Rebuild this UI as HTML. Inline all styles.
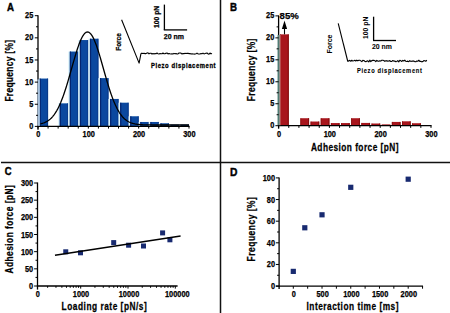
<!DOCTYPE html>
<html><head><meta charset="utf-8"><style>
html,body{margin:0;padding:0;background:#fff;width:450px;height:313px;overflow:hidden}
svg{display:block;font-family:"Liberation Sans", sans-serif}
</style></head><body>
<svg width="450" height="313" viewBox="0 0 450 313">
<line x1="220.50" y1="0.00" x2="220.50" y2="313.00" stroke="#111" stroke-width="1.5"/>
<line x1="1.00" y1="162.40" x2="450.00" y2="162.40" stroke="#111" stroke-width="1.5"/>
<text transform="translate(7.1,10.9)" x="0" y="0" font-size="11.5" font-weight="bold" text-anchor="start" fill="#000" textLength="7.0" lengthAdjust="spacingAndGlyphs" stroke="#000" stroke-width="0.45">A</text>
<rect x="38.00" y="78.58" width="10.07" height="47.82" fill="#dcf4fb"/>
<rect x="39.60" y="78.58" width="8.47" height="47.82" fill="#0b489f"/>
<rect x="39.60" y="78.58" width="1.20" height="47.82" fill="#042470"/>
<rect x="47.07" y="78.58" width="1.00" height="47.82" fill="#0a3888"/>
<rect x="58.13" y="103.37" width="10.07" height="23.03" fill="#dcf4fb"/>
<rect x="59.73" y="103.37" width="8.47" height="23.03" fill="#0b489f"/>
<rect x="59.73" y="103.37" width="1.20" height="23.03" fill="#042470"/>
<rect x="67.20" y="103.37" width="1.00" height="23.03" fill="#0a3888"/>
<rect x="68.20" y="51.57" width="10.07" height="74.83" fill="#dcf4fb"/>
<rect x="69.80" y="51.57" width="8.47" height="74.83" fill="#0b489f"/>
<rect x="69.80" y="51.57" width="1.20" height="74.83" fill="#042470"/>
<rect x="77.27" y="51.57" width="1.00" height="74.83" fill="#0a3888"/>
<rect x="78.27" y="40.05" width="10.07" height="86.35" fill="#dcf4fb"/>
<rect x="79.87" y="40.05" width="8.47" height="86.35" fill="#0b489f"/>
<rect x="79.87" y="40.05" width="1.20" height="86.35" fill="#042470"/>
<rect x="87.33" y="40.05" width="1.00" height="86.35" fill="#0a3888"/>
<rect x="88.33" y="38.73" width="10.07" height="87.67" fill="#dcf4fb"/>
<rect x="89.93" y="38.73" width="8.47" height="87.67" fill="#0b489f"/>
<rect x="89.93" y="38.73" width="1.20" height="87.67" fill="#042470"/>
<rect x="97.40" y="38.73" width="1.00" height="87.67" fill="#0a3888"/>
<rect x="98.40" y="78.13" width="10.07" height="48.27" fill="#dcf4fb"/>
<rect x="100.00" y="78.13" width="8.47" height="48.27" fill="#0b489f"/>
<rect x="100.00" y="78.13" width="1.20" height="48.27" fill="#042470"/>
<rect x="107.47" y="78.13" width="1.00" height="48.27" fill="#0a3888"/>
<rect x="108.47" y="98.95" width="10.07" height="27.45" fill="#dcf4fb"/>
<rect x="110.07" y="98.95" width="8.47" height="27.45" fill="#0b489f"/>
<rect x="110.07" y="98.95" width="1.20" height="27.45" fill="#042470"/>
<rect x="117.53" y="98.95" width="1.00" height="27.45" fill="#0a3888"/>
<rect x="118.53" y="102.71" width="10.07" height="23.69" fill="#dcf4fb"/>
<rect x="120.13" y="102.71" width="8.47" height="23.69" fill="#0b489f"/>
<rect x="120.13" y="102.71" width="1.20" height="23.69" fill="#042470"/>
<rect x="127.60" y="102.71" width="1.00" height="23.69" fill="#0a3888"/>
<rect x="128.60" y="116.30" width="10.07" height="10.10" fill="#dcf4fb"/>
<rect x="130.20" y="116.30" width="8.47" height="10.10" fill="#0b489f"/>
<rect x="130.20" y="116.30" width="1.20" height="10.10" fill="#042470"/>
<rect x="137.67" y="116.30" width="1.00" height="10.10" fill="#0a3888"/>
<rect x="138.67" y="121.97" width="10.07" height="4.43" fill="#dcf4fb"/>
<rect x="140.27" y="121.97" width="8.47" height="4.43" fill="#0b489f"/>
<rect x="140.27" y="121.97" width="1.20" height="4.43" fill="#042470"/>
<rect x="147.73" y="121.97" width="1.00" height="4.43" fill="#0a3888"/>
<rect x="148.73" y="121.97" width="10.07" height="4.43" fill="#dcf4fb"/>
<rect x="150.33" y="121.97" width="8.47" height="4.43" fill="#0b489f"/>
<rect x="150.33" y="121.97" width="1.20" height="4.43" fill="#042470"/>
<rect x="157.80" y="121.97" width="1.00" height="4.43" fill="#0a3888"/>
<rect x="158.80" y="123.30" width="10.07" height="3.10" fill="#dcf4fb"/>
<rect x="160.40" y="123.30" width="8.47" height="3.10" fill="#0b489f"/>
<rect x="160.40" y="123.30" width="1.20" height="3.10" fill="#042470"/>
<rect x="167.87" y="123.30" width="1.00" height="3.10" fill="#0a3888"/>
<rect x="168.87" y="124.63" width="10.07" height="1.77" fill="#dcf4fb"/>
<rect x="170.47" y="124.63" width="8.47" height="1.77" fill="#0b489f"/>
<rect x="178.93" y="124.63" width="10.07" height="1.77" fill="#dcf4fb"/>
<rect x="180.53" y="124.63" width="8.47" height="1.77" fill="#0b489f"/>
<path d="M40.50,123.82 L40.99,123.71 L41.49,123.59 L41.98,123.45 L42.48,123.31 L42.98,123.16 L43.47,122.99 L43.97,122.81 L44.46,122.62 L44.95,122.41 L45.45,122.18 L45.95,121.94 L46.44,121.69 L46.94,121.41 L47.43,121.12 L47.92,120.80 L48.42,120.46 L48.91,120.11 L49.41,119.72 L49.91,119.32 L50.40,118.89 L50.89,118.43 L51.39,117.95 L51.88,117.43 L52.38,116.89 L52.88,116.32 L53.37,115.71 L53.87,115.07 L54.36,114.40 L54.86,113.70 L55.35,112.96 L55.84,112.18 L56.34,111.37 L56.84,110.52 L57.33,109.63 L57.83,108.70 L58.32,107.74 L58.81,106.73 L59.31,105.68 L59.80,104.60 L60.30,103.47 L60.80,102.31 L61.29,101.10 L61.78,99.85 L62.28,98.57 L62.77,97.24 L63.27,95.88 L63.77,94.48 L64.26,93.04 L64.75,91.57 L65.25,90.07 L65.75,88.53 L66.24,86.96 L66.73,85.36 L67.23,83.74 L67.72,82.09 L68.22,80.41 L68.72,78.72 L69.21,77.01 L69.70,75.28 L70.20,73.55 L70.69,71.80 L71.19,70.05 L71.69,68.29 L72.18,66.54 L72.67,64.78 L73.17,63.04 L73.66,61.31 L74.16,59.59 L74.66,57.89 L75.15,56.22 L75.65,54.57 L76.14,52.95 L76.63,51.36 L77.13,49.82 L77.62,48.31 L78.12,46.85 L78.62,45.44 L79.11,44.09 L79.60,42.79 L80.10,41.55 L80.59,40.37 L81.09,39.26 L81.59,38.22 L82.08,37.25 L82.58,36.36 L83.07,35.54 L83.56,34.80 L84.06,34.15 L84.56,33.58 L85.05,33.10 L85.55,32.70 L86.04,32.39 L86.53,32.17 L87.03,32.04 L87.53,32.00 L88.02,32.05 L88.52,32.19 L89.01,32.42 L89.50,32.74 L90.00,33.14 L90.50,33.64 L90.99,34.21 L91.48,34.88 L91.98,35.62 L92.47,36.44 L92.97,37.34 L93.47,38.32 L93.96,39.37 L94.45,40.48 L94.95,41.67 L95.44,42.91 L95.94,44.22 L96.44,45.58 L96.93,47.00 L97.42,48.46 L97.92,49.97 L98.41,51.52 L98.91,53.11 L99.41,54.73 L99.90,56.39 L100.40,58.06 L100.89,59.76 L101.38,61.48 L101.88,63.22 L102.38,64.96 L102.87,66.71 L103.37,68.47 L103.86,70.22 L104.35,71.98 L104.85,73.72 L105.34,75.46 L105.84,77.18 L106.33,78.89 L106.83,80.58 L107.33,82.25 L107.82,83.90 L108.31,85.52 L108.81,87.12 L109.31,88.68 L109.80,90.22 L110.30,91.72 L110.79,93.19 L111.28,94.62 L111.78,96.02 L112.28,97.38 L112.77,98.70 L113.27,99.98 L113.76,101.22 L114.25,102.42 L114.75,103.59 L115.25,104.71 L115.74,105.79 L116.23,106.83 L116.73,107.84 L117.22,108.80 L117.72,109.72 L118.22,110.61 L118.71,111.45 L119.20,112.26 L119.70,113.04 L120.19,113.77 L120.69,114.47 L121.19,115.14 L121.68,115.77 L122.17,116.38 L122.67,116.95 L123.17,117.49 L123.66,118.00 L124.16,118.48 L124.65,118.93 L125.14,119.36 L125.64,119.76 L126.14,120.14 L126.63,120.50 L127.12,120.83 L127.62,121.15 L128.12,121.44 L128.61,121.71 L129.11,121.97 L129.60,122.21 L130.09,122.43 L130.59,122.64 L131.08,122.83 L131.58,123.01 L132.07,123.17 L132.57,123.33 L133.06,123.47 L133.56,123.60 L134.06,123.72 L134.55,123.83 L135.05,123.94 L135.54,124.03 L136.03,124.12 L136.53,124.20 L137.03,124.27 L137.52,124.34 L138.01,124.40 L138.51,124.46 L139.00,124.51 L139.50,124.56 L140.00,124.60 L140.49,124.64 L140.99,124.68 L141.48,124.71 L141.97,124.74 L142.47,124.76 L142.97,124.79 L143.46,124.81 L143.95,124.83 L144.45,124.85 L144.94,124.86 L145.44,124.88 L145.94,124.89 L146.43,124.90 L146.93,124.91 L147.42,124.92 L147.92,124.93 L148.41,124.94 L148.91,124.95 L149.40,124.95 L149.89,124.96 L150.39,124.96 L150.88,124.97 L151.38,124.97 L151.88,124.97 L152.37,124.98 L152.87,124.98 L153.36,124.98 L153.86,124.98 L154.35,124.99 L154.84,124.99 L155.34,124.99 L155.83,124.99 L156.33,124.99 L156.82,124.99 L157.32,124.99 L157.81,124.99 L158.31,125.00 L158.81,125.00 L159.30,125.00 L159.80,125.00 L160.29,125.00 L160.78,125.00 L161.28,125.00 L161.78,125.00 L162.27,125.00 L162.76,125.00 L163.26,125.00 L163.75,125.00 L164.25,125.00 L164.75,125.00 L165.24,125.00 L165.74,125.00 L166.23,125.00 L166.72,125.00 L167.22,125.00 L167.72,125.00 L168.21,125.00 L168.71,125.00 L169.20,125.00 L169.69,125.00 L170.19,125.00 L170.69,125.00 L171.18,125.00 L171.68,125.00 L172.17,125.00 L172.66,125.00 L173.16,125.00 L173.66,125.00 L174.15,125.00 L174.65,125.00 L175.14,125.00 L175.63,125.00 L176.13,125.00 L176.62,125.00 L177.12,125.00 L177.62,125.00 L178.11,125.00 L178.60,125.00 L179.10,125.00 L179.59,125.00 L180.09,125.00 L180.59,125.00 L181.08,125.00 L181.57,125.00 L182.07,125.00 L182.56,125.00 L183.06,125.00 L183.56,125.00 L184.05,125.00 L184.54,125.00 L185.04,125.00 L185.53,125.00 L186.03,125.00 L186.53,125.00 L187.02,125.00 L187.51,125.00 L188.01,125.00 L188.50,125.00 L189.00,125.00" fill="none" stroke="#000" stroke-width="1.3" stroke-linejoin="round"/>
<line x1="38.00" y1="15.20" x2="38.00" y2="129.70" stroke="#000" stroke-width="1.3"/>
<line x1="37.40" y1="126.40" x2="189.60" y2="126.40" stroke="#000" stroke-width="1.3"/>
<rect x="37.40" y="79.38" width="2.40" height="46.42" fill="#a9c2dc"/>
<line x1="34.80" y1="126.40" x2="38.00" y2="126.40" stroke="#000" stroke-width="1.0"/>
<text transform="translate(33.3,129.0)" x="0" y="0" font-size="8.4" font-weight="bold" text-anchor="end" fill="#000" textLength="4.1" lengthAdjust="spacingAndGlyphs" stroke="#000" stroke-width="0.25">0</text>
<line x1="36.00" y1="115.33" x2="38.00" y2="115.33" stroke="#000" stroke-width="1.0"/>
<line x1="34.80" y1="104.26" x2="38.00" y2="104.26" stroke="#000" stroke-width="1.0"/>
<text transform="translate(33.3,106.86)" x="0" y="0" font-size="8.4" font-weight="bold" text-anchor="end" fill="#000" textLength="4.1" lengthAdjust="spacingAndGlyphs" stroke="#000" stroke-width="0.25">5</text>
<line x1="36.00" y1="93.19" x2="38.00" y2="93.19" stroke="#000" stroke-width="1.0"/>
<line x1="34.80" y1="82.12" x2="38.00" y2="82.12" stroke="#000" stroke-width="1.0"/>
<text transform="translate(33.3,84.72)" x="0" y="0" font-size="8.4" font-weight="bold" text-anchor="end" fill="#000" textLength="8.2" lengthAdjust="spacingAndGlyphs" stroke="#000" stroke-width="0.25">10</text>
<line x1="36.00" y1="71.05" x2="38.00" y2="71.05" stroke="#000" stroke-width="1.0"/>
<line x1="34.80" y1="59.98" x2="38.00" y2="59.98" stroke="#000" stroke-width="1.0"/>
<text transform="translate(33.3,62.580000000000005)" x="0" y="0" font-size="8.4" font-weight="bold" text-anchor="end" fill="#000" textLength="8.2" lengthAdjust="spacingAndGlyphs" stroke="#000" stroke-width="0.25">15</text>
<line x1="36.00" y1="48.91" x2="38.00" y2="48.91" stroke="#000" stroke-width="1.0"/>
<line x1="34.80" y1="37.84" x2="38.00" y2="37.84" stroke="#000" stroke-width="1.0"/>
<text transform="translate(33.3,40.440000000000005)" x="0" y="0" font-size="8.4" font-weight="bold" text-anchor="end" fill="#000" textLength="8.2" lengthAdjust="spacingAndGlyphs" stroke="#000" stroke-width="0.25">20</text>
<line x1="36.00" y1="26.77" x2="38.00" y2="26.77" stroke="#000" stroke-width="1.0"/>
<line x1="34.80" y1="15.70" x2="38.00" y2="15.70" stroke="#000" stroke-width="1.0"/>
<text transform="translate(33.3,18.300000000000004)" x="0" y="0" font-size="8.4" font-weight="bold" text-anchor="end" fill="#000" textLength="8.2" lengthAdjust="spacingAndGlyphs" stroke="#000" stroke-width="0.25">25</text>
<line x1="38.00" y1="126.40" x2="38.00" y2="128.60" stroke="#000" stroke-width="1.0"/>
<line x1="48.07" y1="126.40" x2="48.07" y2="128.60" stroke="#000" stroke-width="1.0"/>
<line x1="58.13" y1="126.40" x2="58.13" y2="128.60" stroke="#000" stroke-width="1.0"/>
<line x1="68.20" y1="126.40" x2="68.20" y2="128.60" stroke="#000" stroke-width="1.0"/>
<line x1="78.27" y1="126.40" x2="78.27" y2="128.60" stroke="#000" stroke-width="1.0"/>
<line x1="88.33" y1="126.40" x2="88.33" y2="128.60" stroke="#000" stroke-width="1.0"/>
<line x1="98.40" y1="126.40" x2="98.40" y2="128.60" stroke="#000" stroke-width="1.0"/>
<line x1="108.47" y1="126.40" x2="108.47" y2="128.60" stroke="#000" stroke-width="1.0"/>
<line x1="118.53" y1="126.40" x2="118.53" y2="128.60" stroke="#000" stroke-width="1.0"/>
<line x1="128.60" y1="126.40" x2="128.60" y2="128.60" stroke="#000" stroke-width="1.0"/>
<line x1="138.67" y1="126.40" x2="138.67" y2="128.60" stroke="#000" stroke-width="1.0"/>
<line x1="148.73" y1="126.40" x2="148.73" y2="128.60" stroke="#000" stroke-width="1.0"/>
<line x1="158.80" y1="126.40" x2="158.80" y2="128.60" stroke="#000" stroke-width="1.0"/>
<line x1="168.87" y1="126.40" x2="168.87" y2="128.60" stroke="#000" stroke-width="1.0"/>
<line x1="178.93" y1="126.40" x2="178.93" y2="128.60" stroke="#000" stroke-width="1.0"/>
<line x1="189.00" y1="126.40" x2="189.00" y2="128.60" stroke="#000" stroke-width="1.0"/>
<text transform="translate(38.4,136.6)" x="0" y="0" font-size="8.4" font-weight="bold" text-anchor="middle" fill="#000" textLength="4.1" lengthAdjust="spacingAndGlyphs" stroke="#000" stroke-width="0.25">0</text>
<text transform="translate(88.73333333333333,136.6)" x="0" y="0" font-size="8.4" font-weight="bold" text-anchor="middle" fill="#000" textLength="12.3" lengthAdjust="spacingAndGlyphs" stroke="#000" stroke-width="0.25">100</text>
<text transform="translate(139.06666666666666,136.6)" x="0" y="0" font-size="8.4" font-weight="bold" text-anchor="middle" fill="#000" textLength="12.3" lengthAdjust="spacingAndGlyphs" stroke="#000" stroke-width="0.25">200</text>
<text transform="translate(189.4,136.6)" x="0" y="0" font-size="8.4" font-weight="bold" text-anchor="middle" fill="#000" textLength="12.3" lengthAdjust="spacingAndGlyphs" stroke="#000" stroke-width="0.25">300</text>
<text transform="translate(12.9,101.6) rotate(-90) scale(0.8,1)" x="0" y="0" font-size="10.5" font-weight="bold" text-anchor="start" fill="#000" textLength="77.00" lengthAdjust="spacing" stroke="#000" stroke-width="0.25">Frequency [%]</text>
<path d="M121.60,19.70 L139.10,63.10 L141.00,53.40" fill="none" stroke="#000" stroke-width="1.1" stroke-linejoin="round"/>
<path d="M141.00,53.40 L142.00,53.19 L143.00,53.55 L144.00,53.34 L145.00,53.62 L146.00,53.65 L147.00,52.98 L148.00,52.92 L149.00,53.90 L150.00,53.21 L151.00,53.18 L152.00,54.09 L153.00,53.46 L154.00,53.90 L155.00,53.47 L156.00,53.67 L157.00,53.08 L158.00,53.66 L159.00,53.94 L160.00,53.53 L161.00,53.79 L162.00,53.71 L163.00,52.98 L164.00,53.81 L165.00,53.61 L166.00,53.26 L167.00,52.94 L168.00,53.94 L169.00,53.47 L170.00,53.76 L171.00,53.95 L172.00,53.76 L173.00,54.01 L174.00,53.37 L175.00,53.86 L176.00,53.43 L177.00,54.02 L178.00,53.95 L179.00,53.02 L180.00,53.06 L181.00,53.16 L182.00,54.06 L183.00,53.42 L184.00,53.65 L185.00,53.26 L186.00,53.51 L187.00,53.36 L188.00,53.32 L189.00,53.60 L190.00,53.60 L191.00,53.99 L192.00,53.72 L193.00,54.01 L194.00,53.93 L195.00,54.09 L196.00,53.71 L197.00,53.10 L198.00,53.93 L199.00,54.06 L200.00,53.99 L201.00,53.58 L202.00,53.76 L203.00,53.15 L204.00,53.90 L205.00,53.59 L206.00,53.24 L207.00,52.98 L208.00,53.92 L209.00,54.09 L210.00,53.01 L211.00,53.86 L212.00,53.39" fill="none" stroke="#000" stroke-width="1.1" stroke-linejoin="round"/>
<text transform="translate(120.6,50.8) rotate(-90)" x="0" y="0" font-size="7.2" font-weight="bold" text-anchor="start" fill="#000" textLength="17.6" lengthAdjust="spacingAndGlyphs" stroke="#000" stroke-width="0.25">Force</text>
<line x1="164.40" y1="4.60" x2="164.40" y2="29.90" stroke="#000" stroke-width="1.3"/>
<line x1="163.80" y1="29.90" x2="187.10" y2="29.90" stroke="#000" stroke-width="1.3"/>
<text transform="translate(158.9,28.0) rotate(-90)" x="0" y="0" font-size="6.5" font-weight="bold" text-anchor="start" fill="#000" textLength="22.2" lengthAdjust="spacingAndGlyphs" stroke="#000" stroke-width="0.25">100 pN</text>
<text transform="translate(163.8,38.5)" x="0" y="0" font-size="7.2" font-weight="bold" text-anchor="start" fill="#000" textLength="20.2" lengthAdjust="spacingAndGlyphs" stroke="#000" stroke-width="0.25">20 nm</text>
<text transform="translate(151.0,68.2) scale(0.82,1)" x="0" y="0" font-size="7.2" font-weight="bold" text-anchor="start" fill="#000" textLength="78.78" lengthAdjust="spacing" stroke="#000" stroke-width="0.3">Piezo displacement</text>
<text transform="translate(229.9,10.9)" x="0" y="0" font-size="11.5" font-weight="bold" text-anchor="start" fill="#000" textLength="7.0" lengthAdjust="spacingAndGlyphs" stroke="#000" stroke-width="0.45">B</text>
<rect x="280.10" y="34.35" width="8.66" height="91.35" fill="#a8151c"/>
<rect x="280.10" y="34.35" width="0.80" height="91.35" fill="#850c0c"/>
<rect x="287.76" y="34.35" width="1.00" height="91.35" fill="#820c0c"/>
<rect x="300.42" y="118.23" width="8.66" height="7.47" fill="#a8151c"/>
<rect x="300.42" y="118.23" width="0.80" height="7.47" fill="#850c0c"/>
<rect x="308.08" y="118.23" width="1.00" height="7.47" fill="#820c0c"/>
<rect x="310.58" y="121.53" width="8.66" height="4.17" fill="#a8151c"/>
<rect x="310.58" y="121.53" width="0.80" height="4.17" fill="#850c0c"/>
<rect x="318.24" y="121.53" width="1.00" height="4.17" fill="#820c0c"/>
<rect x="320.74" y="118.23" width="8.66" height="7.47" fill="#a8151c"/>
<rect x="320.74" y="118.23" width="0.80" height="7.47" fill="#850c0c"/>
<rect x="328.40" y="118.23" width="1.00" height="7.47" fill="#820c0c"/>
<rect x="330.90" y="123.06" width="8.66" height="2.64" fill="#a8151c"/>
<rect x="330.90" y="123.06" width="0.80" height="2.64" fill="#850c0c"/>
<rect x="338.56" y="123.06" width="1.00" height="2.64" fill="#820c0c"/>
<rect x="341.06" y="123.06" width="8.66" height="2.64" fill="#a8151c"/>
<rect x="341.06" y="123.06" width="0.80" height="2.64" fill="#850c0c"/>
<rect x="348.72" y="123.06" width="1.00" height="2.64" fill="#820c0c"/>
<rect x="351.22" y="118.23" width="8.66" height="7.47" fill="#a8151c"/>
<rect x="351.22" y="118.23" width="0.80" height="7.47" fill="#850c0c"/>
<rect x="358.88" y="118.23" width="1.00" height="7.47" fill="#820c0c"/>
<rect x="361.38" y="122.93" width="8.66" height="2.77" fill="#a8151c"/>
<rect x="361.38" y="122.93" width="0.80" height="2.77" fill="#850c0c"/>
<rect x="369.04" y="122.93" width="1.00" height="2.77" fill="#820c0c"/>
<rect x="371.54" y="123.50" width="8.66" height="2.20" fill="#a8151c"/>
<rect x="371.54" y="123.50" width="0.80" height="2.20" fill="#850c0c"/>
<rect x="379.20" y="123.50" width="1.00" height="2.20" fill="#820c0c"/>
<rect x="381.70" y="124.38" width="8.66" height="1.32" fill="#a8151c"/>
<rect x="391.86" y="121.92" width="8.66" height="3.78" fill="#a8151c"/>
<rect x="391.86" y="121.92" width="0.80" height="3.78" fill="#850c0c"/>
<rect x="399.52" y="121.92" width="1.00" height="3.78" fill="#820c0c"/>
<rect x="402.02" y="121.31" width="8.66" height="4.39" fill="#a8151c"/>
<rect x="402.02" y="121.31" width="0.80" height="4.39" fill="#850c0c"/>
<rect x="409.68" y="121.31" width="1.00" height="4.39" fill="#820c0c"/>
<rect x="412.18" y="123.24" width="8.66" height="2.46" fill="#a8151c"/>
<rect x="412.18" y="123.24" width="0.80" height="2.46" fill="#850c0c"/>
<rect x="419.84" y="123.24" width="1.00" height="2.46" fill="#820c0c"/>
<line x1="278.60" y1="15.40" x2="278.60" y2="128.70" stroke="#000" stroke-width="1.3"/>
<line x1="278.00" y1="125.70" x2="431.60" y2="125.70" stroke="#000" stroke-width="1.3"/>
<rect x="277.60" y="34.85" width="2.10" height="90.35" fill="#4f7c74"/>
<rect x="279.70" y="34.85" width="0.80" height="90.35" fill="#e08a8a"/>
<line x1="275.40" y1="125.70" x2="278.60" y2="125.70" stroke="#000" stroke-width="1.0"/>
<text transform="translate(274.3,127.9)" x="0" y="0" font-size="8.4" font-weight="bold" text-anchor="end" fill="#000" textLength="4.1" lengthAdjust="spacingAndGlyphs" stroke="#000" stroke-width="0.25">0</text>
<line x1="276.60" y1="114.72" x2="278.60" y2="114.72" stroke="#000" stroke-width="1.0"/>
<line x1="275.40" y1="103.74" x2="278.60" y2="103.74" stroke="#000" stroke-width="1.0"/>
<text transform="translate(274.3,105.94000000000001)" x="0" y="0" font-size="8.4" font-weight="bold" text-anchor="end" fill="#000" textLength="4.1" lengthAdjust="spacingAndGlyphs" stroke="#000" stroke-width="0.25">5</text>
<line x1="276.60" y1="92.76" x2="278.60" y2="92.76" stroke="#000" stroke-width="1.0"/>
<line x1="275.40" y1="81.78" x2="278.60" y2="81.78" stroke="#000" stroke-width="1.0"/>
<text transform="translate(274.3,83.98)" x="0" y="0" font-size="8.4" font-weight="bold" text-anchor="end" fill="#000" textLength="8.2" lengthAdjust="spacingAndGlyphs" stroke="#000" stroke-width="0.25">10</text>
<line x1="276.60" y1="70.80" x2="278.60" y2="70.80" stroke="#000" stroke-width="1.0"/>
<line x1="275.40" y1="59.82" x2="278.60" y2="59.82" stroke="#000" stroke-width="1.0"/>
<text transform="translate(274.3,62.02000000000001)" x="0" y="0" font-size="8.4" font-weight="bold" text-anchor="end" fill="#000" textLength="8.2" lengthAdjust="spacingAndGlyphs" stroke="#000" stroke-width="0.25">15</text>
<line x1="276.60" y1="48.84" x2="278.60" y2="48.84" stroke="#000" stroke-width="1.0"/>
<line x1="275.40" y1="37.86" x2="278.60" y2="37.86" stroke="#000" stroke-width="1.0"/>
<text transform="translate(274.3,40.06000000000002)" x="0" y="0" font-size="8.4" font-weight="bold" text-anchor="end" fill="#000" textLength="8.2" lengthAdjust="spacingAndGlyphs" stroke="#000" stroke-width="0.25">20</text>
<line x1="276.60" y1="26.88" x2="278.60" y2="26.88" stroke="#000" stroke-width="1.0"/>
<line x1="275.40" y1="15.90" x2="278.60" y2="15.90" stroke="#000" stroke-width="1.0"/>
<text transform="translate(274.3,18.10000000000002)" x="0" y="0" font-size="8.4" font-weight="bold" text-anchor="end" fill="#000" textLength="8.2" lengthAdjust="spacingAndGlyphs" stroke="#000" stroke-width="0.25">25</text>
<line x1="278.60" y1="125.70" x2="278.60" y2="127.90" stroke="#000" stroke-width="1.0"/>
<line x1="288.76" y1="125.70" x2="288.76" y2="127.90" stroke="#000" stroke-width="1.0"/>
<line x1="298.92" y1="125.70" x2="298.92" y2="127.90" stroke="#000" stroke-width="1.0"/>
<line x1="309.08" y1="125.70" x2="309.08" y2="127.90" stroke="#000" stroke-width="1.0"/>
<line x1="319.24" y1="125.70" x2="319.24" y2="127.90" stroke="#000" stroke-width="1.0"/>
<line x1="329.40" y1="125.70" x2="329.40" y2="127.90" stroke="#000" stroke-width="1.0"/>
<line x1="339.56" y1="125.70" x2="339.56" y2="127.90" stroke="#000" stroke-width="1.0"/>
<line x1="349.72" y1="125.70" x2="349.72" y2="127.90" stroke="#000" stroke-width="1.0"/>
<line x1="359.88" y1="125.70" x2="359.88" y2="127.90" stroke="#000" stroke-width="1.0"/>
<line x1="370.04" y1="125.70" x2="370.04" y2="127.90" stroke="#000" stroke-width="1.0"/>
<line x1="380.20" y1="125.70" x2="380.20" y2="127.90" stroke="#000" stroke-width="1.0"/>
<line x1="390.36" y1="125.70" x2="390.36" y2="127.90" stroke="#000" stroke-width="1.0"/>
<line x1="400.52" y1="125.70" x2="400.52" y2="127.90" stroke="#000" stroke-width="1.0"/>
<line x1="410.68" y1="125.70" x2="410.68" y2="127.90" stroke="#000" stroke-width="1.0"/>
<line x1="420.84" y1="125.70" x2="420.84" y2="127.90" stroke="#000" stroke-width="1.0"/>
<line x1="431.00" y1="125.70" x2="431.00" y2="127.90" stroke="#000" stroke-width="1.0"/>
<text transform="translate(279.0,136.8)" x="0" y="0" font-size="8.4" font-weight="bold" text-anchor="middle" fill="#000" textLength="4.1" lengthAdjust="spacingAndGlyphs" stroke="#000" stroke-width="0.25">0</text>
<text transform="translate(329.8,136.8)" x="0" y="0" font-size="8.4" font-weight="bold" text-anchor="middle" fill="#000" textLength="12.3" lengthAdjust="spacingAndGlyphs" stroke="#000" stroke-width="0.25">100</text>
<text transform="translate(380.59999999999997,136.8)" x="0" y="0" font-size="8.4" font-weight="bold" text-anchor="middle" fill="#000" textLength="12.3" lengthAdjust="spacingAndGlyphs" stroke="#000" stroke-width="0.25">200</text>
<text transform="translate(431.4,136.8)" x="0" y="0" font-size="8.4" font-weight="bold" text-anchor="middle" fill="#000" textLength="12.3" lengthAdjust="spacingAndGlyphs" stroke="#000" stroke-width="0.25">300</text>
<text transform="translate(254.5,101.2) rotate(-90) scale(0.8,1)" x="0" y="0" font-size="10.5" font-weight="bold" text-anchor="start" fill="#000" textLength="78.25" lengthAdjust="spacing" stroke="#000" stroke-width="0.25">Frequency [%]</text>
<text transform="translate(310.9,150.8) scale(0.8,1)" x="0" y="0" font-size="10.4" font-weight="bold" text-anchor="start" fill="#000" textLength="109.50" lengthAdjust="spacing" stroke="#000" stroke-width="0.25">Adhesion force [pN]</text>
<text transform="translate(279.6,18.5)" x="0" y="0" font-size="9.9" font-weight="bold" text-anchor="start" fill="#000" textLength="19.2" lengthAdjust="spacingAndGlyphs" stroke="#000" stroke-width="0.25">85%</text>
<line x1="284.50" y1="27.50" x2="284.50" y2="34.35" stroke="#000" stroke-width="1.1"/>
<path d="M281.9,29.0 L284.5,20.4 L287.1,29.0 Z" fill="#000"/>
<path d="M338.20,23.40 L347.80,61.50" fill="none" stroke="#000" stroke-width="1.1" stroke-linejoin="round"/>
<path d="M347.80,61.50 L348.80,60.68 L349.80,60.37 L350.80,61.27 L351.80,60.23 L352.80,61.06 L353.80,60.76 L354.80,60.20 L355.80,61.01 L356.80,60.17 L357.80,60.88 L358.80,60.23 L359.80,60.26 L360.80,60.86 L361.80,61.59 L362.80,60.32 L363.80,60.50 L364.80,61.23 L365.80,61.81 L366.80,61.14 L367.80,60.81 L368.80,61.86 L369.80,60.18 L370.80,61.65 L371.80,60.62 L372.80,60.36 L373.80,60.31 L374.80,60.66 L375.80,61.57 L376.80,60.43 L377.80,61.15 L378.80,61.25 L379.80,60.77 L380.80,61.09 L381.80,60.21 L382.80,60.21 L383.80,60.47 L384.80,61.32 L385.80,60.87 L386.80,60.67 L387.80,61.15 L388.80,60.92 L389.80,60.64 L390.80,61.53 L391.80,61.36 L392.80,60.54 L393.80,61.13 L394.80,61.05 L395.80,61.68 L396.80,61.41 L397.80,60.62 L398.80,61.86 L399.80,60.31 L400.80,60.85 L401.80,61.46 L402.80,60.37 L403.80,60.98 L404.80,60.17 L405.80,61.30 L406.80,61.48 L407.80,61.13 L408.80,61.68 L409.80,60.66 L410.80,61.35 L411.80,61.17 L412.80,61.14 L413.80,60.92 L414.80,61.61 L415.80,61.80 L416.80,60.95 L417.80,61.30 L418.80,60.21 L419.80,61.36 L420.80,61.26 L421.80,61.89 L422.80,61.58 L423.80,60.61 L424.80,60.79 L425.80,61.30 L426.80,60.14" fill="none" stroke="#000" stroke-width="1.1" stroke-linejoin="round"/>
<text transform="translate(332.3,53.6) rotate(-90)" x="0" y="0" font-size="6.8" font-weight="bold" text-anchor="start" fill="#000" textLength="19.0" lengthAdjust="spacingAndGlyphs" stroke="#000" stroke-width="0.05">Force</text>
<line x1="373.60" y1="16.70" x2="373.60" y2="40.50" stroke="#000" stroke-width="1.3"/>
<line x1="373.00" y1="40.50" x2="396.00" y2="40.50" stroke="#000" stroke-width="1.3"/>
<text transform="translate(367.6,39.0) rotate(-90)" x="0" y="0" font-size="6.8" font-weight="bold" text-anchor="start" fill="#000" textLength="22.3" lengthAdjust="spacingAndGlyphs" stroke="#000" stroke-width="0.05">100 pN</text>
<text transform="translate(372.0,49.4)" x="0" y="0" font-size="6.9" font-weight="bold" text-anchor="start" fill="#000" textLength="20.0" lengthAdjust="spacingAndGlyphs" stroke="#000" stroke-width="0.05">20 nm</text>
<text transform="translate(356.9,72.5) scale(0.82,1)" x="0" y="0" font-size="7.0" font-weight="bold" text-anchor="start" fill="#000" textLength="79.27" lengthAdjust="spacing" stroke="#000" stroke-width="0.12">Piezo displacement</text>
<text transform="translate(4.8,175.4)" x="0" y="0" font-size="11.5" font-weight="bold" text-anchor="start" fill="#000" textLength="6.8" lengthAdjust="spacingAndGlyphs" stroke="#000" stroke-width="0.45">C</text>
<line x1="37.50" y1="182.50" x2="37.50" y2="289.60" stroke="#000" stroke-width="1.3"/>
<line x1="36.90" y1="286.00" x2="177.60" y2="286.00" stroke="#000" stroke-width="1.3"/>
<line x1="34.10" y1="286.00" x2="37.50" y2="286.00" stroke="#000" stroke-width="1.0"/>
<text transform="translate(33.2,289.0)" x="0" y="0" font-size="8.4" font-weight="bold" text-anchor="end" fill="#000" textLength="4.1" lengthAdjust="spacingAndGlyphs" stroke="#000" stroke-width="0.25">0</text>
<line x1="35.50" y1="277.42" x2="37.50" y2="277.42" stroke="#000" stroke-width="1.0"/>
<line x1="34.10" y1="268.83" x2="37.50" y2="268.83" stroke="#000" stroke-width="1.0"/>
<text transform="translate(33.2,271.8333333333333)" x="0" y="0" font-size="8.4" font-weight="bold" text-anchor="end" fill="#000" textLength="8.2" lengthAdjust="spacingAndGlyphs" stroke="#000" stroke-width="0.25">50</text>
<line x1="35.50" y1="260.25" x2="37.50" y2="260.25" stroke="#000" stroke-width="1.0"/>
<line x1="34.10" y1="251.67" x2="37.50" y2="251.67" stroke="#000" stroke-width="1.0"/>
<text transform="translate(33.2,254.66666666666666)" x="0" y="0" font-size="8.4" font-weight="bold" text-anchor="end" fill="#000" textLength="12.3" lengthAdjust="spacingAndGlyphs" stroke="#000" stroke-width="0.25">100</text>
<line x1="35.50" y1="243.08" x2="37.50" y2="243.08" stroke="#000" stroke-width="1.0"/>
<line x1="34.10" y1="234.50" x2="37.50" y2="234.50" stroke="#000" stroke-width="1.0"/>
<text transform="translate(33.2,237.5)" x="0" y="0" font-size="8.4" font-weight="bold" text-anchor="end" fill="#000" textLength="12.3" lengthAdjust="spacingAndGlyphs" stroke="#000" stroke-width="0.25">150</text>
<line x1="35.50" y1="225.92" x2="37.50" y2="225.92" stroke="#000" stroke-width="1.0"/>
<line x1="34.10" y1="217.33" x2="37.50" y2="217.33" stroke="#000" stroke-width="1.0"/>
<text transform="translate(33.2,220.33333333333331)" x="0" y="0" font-size="8.4" font-weight="bold" text-anchor="end" fill="#000" textLength="12.3" lengthAdjust="spacingAndGlyphs" stroke="#000" stroke-width="0.25">200</text>
<line x1="35.50" y1="208.75" x2="37.50" y2="208.75" stroke="#000" stroke-width="1.0"/>
<line x1="34.10" y1="200.17" x2="37.50" y2="200.17" stroke="#000" stroke-width="1.0"/>
<text transform="translate(33.2,203.16666666666669)" x="0" y="0" font-size="8.4" font-weight="bold" text-anchor="end" fill="#000" textLength="12.3" lengthAdjust="spacingAndGlyphs" stroke="#000" stroke-width="0.25">250</text>
<line x1="35.50" y1="191.58" x2="37.50" y2="191.58" stroke="#000" stroke-width="1.0"/>
<line x1="34.10" y1="183.00" x2="37.50" y2="183.00" stroke="#000" stroke-width="1.0"/>
<text transform="translate(33.2,186.0)" x="0" y="0" font-size="8.4" font-weight="bold" text-anchor="end" fill="#000" textLength="12.3" lengthAdjust="spacingAndGlyphs" stroke="#000" stroke-width="0.25">300</text>
<line x1="47.64" y1="286.00" x2="47.64" y2="287.80" stroke="#000" stroke-width="1.0"/>
<line x1="55.97" y1="286.00" x2="55.97" y2="287.80" stroke="#000" stroke-width="1.0"/>
<line x1="61.88" y1="286.00" x2="61.88" y2="287.80" stroke="#000" stroke-width="1.0"/>
<line x1="66.46" y1="286.00" x2="66.46" y2="287.80" stroke="#000" stroke-width="1.0"/>
<line x1="70.21" y1="286.00" x2="70.21" y2="287.80" stroke="#000" stroke-width="1.0"/>
<line x1="73.37" y1="286.00" x2="73.37" y2="287.80" stroke="#000" stroke-width="1.0"/>
<line x1="76.12" y1="286.00" x2="76.12" y2="287.80" stroke="#000" stroke-width="1.0"/>
<line x1="78.54" y1="286.00" x2="78.54" y2="287.80" stroke="#000" stroke-width="1.0"/>
<line x1="80.70" y1="286.00" x2="80.70" y2="288.60" stroke="#000" stroke-width="1.0"/>
<line x1="94.94" y1="286.00" x2="94.94" y2="287.80" stroke="#000" stroke-width="1.0"/>
<line x1="103.27" y1="286.00" x2="103.27" y2="287.80" stroke="#000" stroke-width="1.0"/>
<line x1="109.18" y1="286.00" x2="109.18" y2="287.80" stroke="#000" stroke-width="1.0"/>
<line x1="113.76" y1="286.00" x2="113.76" y2="287.80" stroke="#000" stroke-width="1.0"/>
<line x1="117.51" y1="286.00" x2="117.51" y2="287.80" stroke="#000" stroke-width="1.0"/>
<line x1="120.67" y1="286.00" x2="120.67" y2="287.80" stroke="#000" stroke-width="1.0"/>
<line x1="123.42" y1="286.00" x2="123.42" y2="287.80" stroke="#000" stroke-width="1.0"/>
<line x1="125.84" y1="286.00" x2="125.84" y2="287.80" stroke="#000" stroke-width="1.0"/>
<line x1="128.00" y1="286.00" x2="128.00" y2="288.60" stroke="#000" stroke-width="1.0"/>
<line x1="142.24" y1="286.00" x2="142.24" y2="287.80" stroke="#000" stroke-width="1.0"/>
<line x1="150.57" y1="286.00" x2="150.57" y2="287.80" stroke="#000" stroke-width="1.0"/>
<line x1="156.48" y1="286.00" x2="156.48" y2="287.80" stroke="#000" stroke-width="1.0"/>
<line x1="161.06" y1="286.00" x2="161.06" y2="287.80" stroke="#000" stroke-width="1.0"/>
<line x1="164.81" y1="286.00" x2="164.81" y2="287.80" stroke="#000" stroke-width="1.0"/>
<line x1="167.97" y1="286.00" x2="167.97" y2="287.80" stroke="#000" stroke-width="1.0"/>
<line x1="170.72" y1="286.00" x2="170.72" y2="287.80" stroke="#000" stroke-width="1.0"/>
<line x1="173.14" y1="286.00" x2="173.14" y2="287.80" stroke="#000" stroke-width="1.0"/>
<line x1="175.30" y1="286.00" x2="175.30" y2="288.60" stroke="#000" stroke-width="1.0"/>
<text transform="translate(37.8,296.6)" x="0" y="0" font-size="8.4" font-weight="bold" text-anchor="middle" fill="#000" textLength="4.1" lengthAdjust="spacingAndGlyphs" stroke="#000" stroke-width="0.25">0</text>
<text transform="translate(81.0,296.6)" x="0" y="0" font-size="8.4" font-weight="bold" text-anchor="middle" fill="#000" textLength="16.4" lengthAdjust="spacingAndGlyphs" stroke="#000" stroke-width="0.25">1000</text>
<text transform="translate(129.0,296.6)" x="0" y="0" font-size="8.4" font-weight="bold" text-anchor="middle" fill="#000" textLength="20.5" lengthAdjust="spacingAndGlyphs" stroke="#000" stroke-width="0.25">10000</text>
<text transform="translate(177.3,296.6)" x="0" y="0" font-size="8.4" font-weight="bold" text-anchor="middle" fill="#000" textLength="24.6" lengthAdjust="spacingAndGlyphs" stroke="#000" stroke-width="0.25">100000</text>
<text transform="translate(13.1,273.6) rotate(-90) scale(0.8,1)" x="0" y="0" font-size="10.5" font-weight="bold" text-anchor="start" fill="#000" textLength="110.50" lengthAdjust="spacing" stroke="#000" stroke-width="0.25">Adhesion force [pN]</text>
<text transform="translate(61.6,309.5) scale(0.8,1)" x="0" y="0" font-size="10.4" font-weight="bold" text-anchor="start" fill="#000" textLength="106.50" lengthAdjust="spacing" stroke="#000" stroke-width="0.25">Loading rate [pN/s]</text>
<rect x="63.25" y="249.30" width="5.00" height="5.00" fill="#182a70"/>
<rect x="78.00" y="250.30" width="5.00" height="5.00" fill="#182a70"/>
<rect x="111.20" y="240.10" width="5.00" height="5.00" fill="#182a70"/>
<rect x="126.10" y="242.70" width="5.00" height="5.00" fill="#182a70"/>
<rect x="141.00" y="243.50" width="5.00" height="5.00" fill="#182a70"/>
<rect x="160.10" y="230.40" width="5.00" height="5.00" fill="#182a70"/>
<rect x="167.40" y="237.30" width="5.00" height="5.00" fill="#182a70"/>
<line x1="55.00" y1="255.20" x2="180.60" y2="236.00" stroke="#000" stroke-width="1.4"/>
<text transform="translate(229.9,175.8)" x="0" y="0" font-size="11.5" font-weight="bold" text-anchor="start" fill="#000" textLength="7.4" lengthAdjust="spacingAndGlyphs" stroke="#000" stroke-width="0.45">D</text>
<line x1="279.10" y1="177.40" x2="279.10" y2="289.10" stroke="#000" stroke-width="1.3"/>
<line x1="275.80" y1="286.10" x2="423.06" y2="286.10" stroke="#000" stroke-width="1.3"/>
<line x1="275.90" y1="286.10" x2="279.10" y2="286.10" stroke="#000" stroke-width="1.0"/>
<text transform="translate(275.0,289.1)" x="0" y="0" font-size="8.4" font-weight="bold" text-anchor="end" fill="#000" textLength="4.1" lengthAdjust="spacingAndGlyphs" stroke="#000" stroke-width="0.25">0</text>
<line x1="277.10" y1="275.28" x2="279.10" y2="275.28" stroke="#000" stroke-width="1.0"/>
<line x1="275.90" y1="264.46" x2="279.10" y2="264.46" stroke="#000" stroke-width="1.0"/>
<text transform="translate(275.0,267.46000000000004)" x="0" y="0" font-size="8.4" font-weight="bold" text-anchor="end" fill="#000" textLength="8.2" lengthAdjust="spacingAndGlyphs" stroke="#000" stroke-width="0.25">20</text>
<line x1="277.10" y1="253.64" x2="279.10" y2="253.64" stroke="#000" stroke-width="1.0"/>
<line x1="275.90" y1="242.82" x2="279.10" y2="242.82" stroke="#000" stroke-width="1.0"/>
<text transform="translate(275.0,245.82000000000002)" x="0" y="0" font-size="8.4" font-weight="bold" text-anchor="end" fill="#000" textLength="8.2" lengthAdjust="spacingAndGlyphs" stroke="#000" stroke-width="0.25">40</text>
<line x1="277.10" y1="232.00" x2="279.10" y2="232.00" stroke="#000" stroke-width="1.0"/>
<line x1="275.90" y1="221.18" x2="279.10" y2="221.18" stroke="#000" stroke-width="1.0"/>
<text transform="translate(275.0,224.18)" x="0" y="0" font-size="8.4" font-weight="bold" text-anchor="end" fill="#000" textLength="8.2" lengthAdjust="spacingAndGlyphs" stroke="#000" stroke-width="0.25">60</text>
<line x1="277.10" y1="210.36" x2="279.10" y2="210.36" stroke="#000" stroke-width="1.0"/>
<line x1="275.90" y1="199.54" x2="279.10" y2="199.54" stroke="#000" stroke-width="1.0"/>
<text transform="translate(275.0,202.54000000000002)" x="0" y="0" font-size="8.4" font-weight="bold" text-anchor="end" fill="#000" textLength="8.2" lengthAdjust="spacingAndGlyphs" stroke="#000" stroke-width="0.25">80</text>
<line x1="277.10" y1="188.72" x2="279.10" y2="188.72" stroke="#000" stroke-width="1.0"/>
<line x1="275.90" y1="177.90" x2="279.10" y2="177.90" stroke="#000" stroke-width="1.0"/>
<text transform="translate(275.0,180.90000000000003)" x="0" y="0" font-size="8.4" font-weight="bold" text-anchor="end" fill="#000" textLength="12.3" lengthAdjust="spacingAndGlyphs" stroke="#000" stroke-width="0.25">100</text>
<line x1="293.30" y1="286.10" x2="293.30" y2="288.70" stroke="#000" stroke-width="1.0"/>
<line x1="307.66" y1="286.10" x2="307.66" y2="288.70" stroke="#000" stroke-width="1.0"/>
<line x1="322.02" y1="286.10" x2="322.02" y2="288.70" stroke="#000" stroke-width="1.0"/>
<line x1="336.39" y1="286.10" x2="336.39" y2="288.70" stroke="#000" stroke-width="1.0"/>
<line x1="350.75" y1="286.10" x2="350.75" y2="288.70" stroke="#000" stroke-width="1.0"/>
<line x1="365.11" y1="286.10" x2="365.11" y2="288.70" stroke="#000" stroke-width="1.0"/>
<line x1="379.48" y1="286.10" x2="379.48" y2="288.70" stroke="#000" stroke-width="1.0"/>
<line x1="393.84" y1="286.10" x2="393.84" y2="288.70" stroke="#000" stroke-width="1.0"/>
<line x1="408.20" y1="286.10" x2="408.20" y2="288.70" stroke="#000" stroke-width="1.0"/>
<line x1="422.56" y1="286.10" x2="422.56" y2="288.70" stroke="#000" stroke-width="1.0"/>
<text transform="translate(293.90000000000003,296.8)" x="0" y="0" font-size="8.4" font-weight="bold" text-anchor="middle" fill="#000" textLength="4.1" lengthAdjust="spacingAndGlyphs" stroke="#000" stroke-width="0.25">0</text>
<text transform="translate(322.625,296.8)" x="0" y="0" font-size="8.4" font-weight="bold" text-anchor="middle" fill="#000" textLength="12.3" lengthAdjust="spacingAndGlyphs" stroke="#000" stroke-width="0.25">500</text>
<text transform="translate(351.35,296.8)" x="0" y="0" font-size="8.4" font-weight="bold" text-anchor="middle" fill="#000" textLength="16.4" lengthAdjust="spacingAndGlyphs" stroke="#000" stroke-width="0.25">1000</text>
<text transform="translate(380.07500000000005,296.8)" x="0" y="0" font-size="8.4" font-weight="bold" text-anchor="middle" fill="#000" textLength="16.4" lengthAdjust="spacingAndGlyphs" stroke="#000" stroke-width="0.25">1500</text>
<text transform="translate(408.8,296.8)" x="0" y="0" font-size="8.4" font-weight="bold" text-anchor="middle" fill="#000" textLength="16.4" lengthAdjust="spacingAndGlyphs" stroke="#000" stroke-width="0.25">2000</text>
<text transform="translate(254.6,261.4) rotate(-90) scale(0.8,1)" x="0" y="0" font-size="10.5" font-weight="bold" text-anchor="start" fill="#000" textLength="80.37" lengthAdjust="spacing" stroke="#000" stroke-width="0.25">Frequency [%]</text>
<text transform="translate(306.5,309.5) scale(0.8,1)" x="0" y="0" font-size="10.4" font-weight="bold" text-anchor="start" fill="#000" textLength="115.00" lengthAdjust="spacing" stroke="#000" stroke-width="0.25">Interaction time [ms]</text>
<rect x="290.70" y="268.78" width="5.20" height="5.20" fill="#182a70"/>
<rect x="302.19" y="225.18" width="5.20" height="5.20" fill="#182a70"/>
<rect x="319.42" y="212.20" width="5.20" height="5.20" fill="#182a70"/>
<rect x="348.15" y="184.71" width="5.20" height="5.20" fill="#182a70"/>
<rect x="405.60" y="176.60" width="5.20" height="5.20" fill="#182a70"/>
</svg></body></html>
